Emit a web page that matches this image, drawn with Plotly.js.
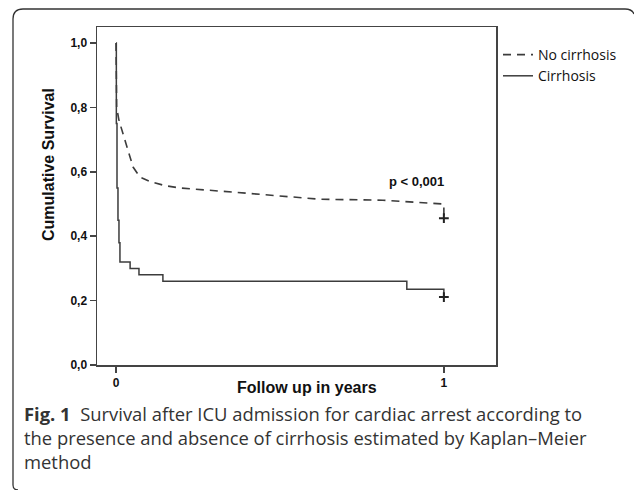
<!DOCTYPE html>
<html>
<head>
<meta charset="utf-8">
<script src="https://cdn.plot.ly/plotly-3.0.1.min.js"></script>
<style>html,body{margin:0;padding:0;background:#fff;}#chart{width:634px;height:490px;}</style>
</head>
<body>
<div id="chart"></div>
<script>
// Kaplan–Meier estimates
const noCirrhosisTime = [0, 0, 0.002, 0.009, 0.018, 0.027, 0.04, 0.052, 0.073, 0.104, 0.15, 0.195, 0.357, 0.622, 0.814, 1.0, 1.0];
const noCirrhosisSurv = [1.0, 0.9, 0.80, 0.76, 0.73, 0.70, 0.65, 0.615, 0.584, 0.57, 0.557, 0.55, 0.537, 0.515, 0.512, 0.50, 0.46];

const cirrhosisTime = [0, 0.001, 0.003, 0.006, 0.009, 0.012, 0.043, 0.07, 0.143, 0.887, 1.0, 1.0];
const cirrhosisSurv = [1.0, 0.75, 0.55, 0.45, 0.38, 0.32, 0.30, 0.28, 0.26, 0.235, 0.235, 0.211];

const censorTime = [1.0, 1.0];
const censorSurv = [0.456, 0.211];

const seriesNames = ['No cirrhosis', 'Cirrhosis'];
const xTickVals = [0, 1];
const xTickText = ['0', '1'];
const yTickVals = [0, 0.2, 0.4, 0.6, 0.8, 1.0];
const yTickText = ['0,0', '0,2', '0,4', '0,6', '0,8', '1,0'];
const xTitle = 'Follow up in years';
const yTitle = 'Cumulative Survival';
const pValueText = 'p < 0,001';
const captionLines = [
  '<b>Fig. 1</b>\u00a0 Survival after ICU admission for cardiac arrest according to',
  'the presence and absence of cirrhosis estimated by Kaplan–Meier',
  'method'
];

const lineColor = '#3c3c3c';
const boldFont = {family: 'Liberation Sans, Arial, sans-serif', size: 12, color: '#111', weight: 'bold'};
const titleFont = {family: 'Liberation Sans, Arial, sans-serif', size: 16, color: '#111', weight: 'bold'};

const traces = [
  {x: noCirrhosisTime, y: noCirrhosisSurv, name: seriesNames[0], type: 'scatter', mode: 'lines',
   line: {color: lineColor, width: 1.6, dash: '8px,6px'}},
  {x: cirrhosisTime, y: cirrhosisSurv, name: seriesNames[1], type: 'scatter', mode: 'lines',
   line: {color: lineColor, width: 1.5, shape: 'hv'}},
  {x: censorTime, y: censorSurv, type: 'scatter', mode: 'markers', showlegend: false, hoverinfo: 'skip',
   marker: {symbol: 'cross-thin', size: 7, line: {color: '#222', width: 2}}}
];

function px2x(p){ return (p - 97) / 399; }
function px2y(p){ return (365 - p) / 338; }

const borderPath = 'M ' + px2x(18) + ',' + px2y(490) +
  ' Q ' + px2x(13) + ',' + px2y(490) + ' ' + px2x(13) + ',' + px2y(485) +
  ' L ' + px2x(13) + ',' + px2y(19) +
  ' Q ' + px2x(13) + ',' + px2y(9) + ' ' + px2x(23) + ',' + px2y(9) +
  ' L ' + px2x(625) + ',' + px2y(9) +
  ' Q ' + px2x(632) + ',' + px2y(9) + ' ' + px2x(634) + ',' + px2y(14);

const captionY = [413, 437, 461];
const annotations = captionLines.map((t, i) => ({
  xref: 'paper', yref: 'paper', x: px2x(22), y: px2y(captionY[i]),
  xanchor: 'left', yanchor: 'middle', showarrow: false, text: t, align: 'left',
  font: {family: 'Open Sans, sans-serif', size: 18.4, color: '#333'}
}));
annotations.push({
  xref: 'x', yref: 'y', x: 0.915, y: 0.571, xanchor: 'center', yanchor: 'middle',
  showarrow: false, text: pValueText, font: {family: 'Liberation Sans, Arial, sans-serif', size: 13, color: '#111', weight: 'bold'}
});
annotations.push({
  xref: 'paper', yref: 'paper', x: px2x(307), y: px2y(387), xanchor: 'center', yanchor: 'middle',
  showarrow: false, text: xTitle, font: titleFont
});
annotations.push({
  xref: 'paper', yref: 'paper', x: px2x(48), y: px2y(165), xanchor: 'center', yanchor: 'middle',
  textangle: -90, showarrow: false, text: yTitle, font: titleFont
});

const axisCommon = {
  showgrid: false, zeroline: false, showline: true, mirror: true,
  linecolor: '#444', linewidth: 1.5, ticks: 'outside', ticklen: 6, tickwidth: 1.5, tickcolor: '#444',
  tickfont: boldFont, fixedrange: true
};

const layout = {
  width: 634, height: 490,
  margin: {l: 97, r: 138, t: 27, b: 125, pad: 0},
  paper_bgcolor: '#fff', plot_bgcolor: '#fff',
  xaxis: Object.assign({}, axisCommon, {range: [-0.058, 1.159], tickmode: 'array', tickvals: xTickVals, ticktext: xTickText}),
  yaxis: Object.assign({}, axisCommon, {range: [0, 1.05], tickmode: 'array', tickvals: yTickVals, ticktext: yTickText}),
  legend: {x: px2x(498), y: px2y(39), xanchor: 'left', yanchor: 'top', xref: 'paper', yref: 'paper',
    bgcolor: 'rgba(0,0,0,0)', font: {family: 'Open Sans, sans-serif', size: 14, color: '#111'},
    itemwidth: 30, tracegroupgap: 0},
  shapes: [{type: 'path', xref: 'paper', yref: 'paper', path: borderPath, line: {color: '#333', width: 1.3}}],
  annotations: annotations,
  showlegend: true
};

Plotly.newPlot('chart', traces, layout, {displayModeBar: false, staticPlot: true});
</script>
</body>
</html>
